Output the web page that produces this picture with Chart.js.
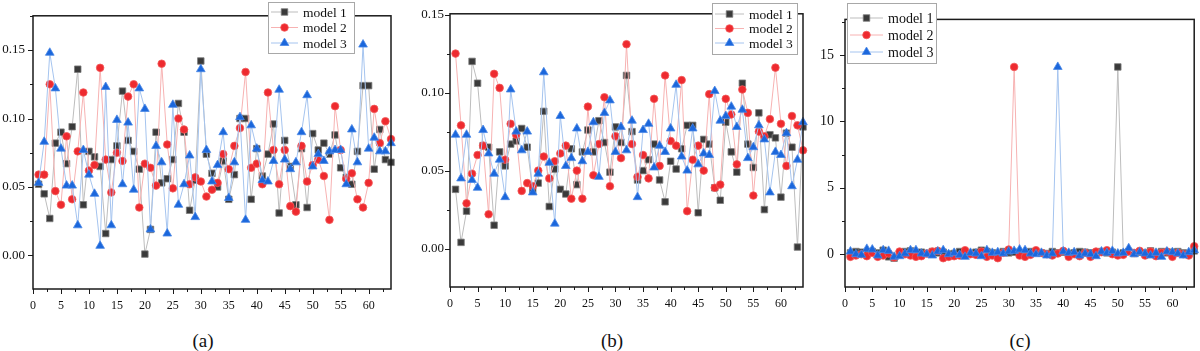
<!DOCTYPE html>
<html>
<head>
<meta charset="utf-8">
<script src="https://cdn.jsdelivr.net/npm/chart.js@4.4.0/dist/chart.umd.min.js"></script>
<style>
html, body { margin: 0; padding: 0; background: #fff; width: 1200px; height: 351px; overflow: hidden; }
canvas { position: absolute; top: 0; }
.cap { position: absolute; top: 329px; width: 60px; text-align: center; font: 19px "Liberation Serif", serif; line-height: 24px; color: #111; }
</style>
</head>
<body>
<canvas id="chA" width="400" height="318" style="left:0px"></canvas>
<canvas id="chB" width="400" height="318" style="left:410px"></canvas>
<canvas id="chC" width="385" height="318" style="left:815px"></canvas>
<div class="cap" style="left:173px">(a)</div>
<div class="cap" style="left:582px">(b)</div>
<div class="cap" style="left:990px">(c)</div>
<script>
// tick labels
var xTickVals = [0, 5, 10, 15, 20, 25, 30, 35, 40, 45, 50, 55, 60];
var yTicksA = [0, 0.05, 0.10, 0.15];
var yTicksB = [0, 0.05, 0.10, 0.15];
var yTicksC = [0, 5, 10, 15];
var seriesNames = ["model 1", "model 2", "model 3"];

// panel (a)
var a1 = [0.052, 0.045, 0.027, 0.082, 0.090, 0.067, 0.094, 0.136,
          0.037, 0.076, 0.072, 0.065, 0.016, 0.070, 0.080, 0.120,
          0.084, 0.076, 0.063, 0.001, 0.019, 0.090, 0.053, 0.056,
          0.070, 0.111, 0.090, 0.033, 0.055, 0.142, 0.074, 0.060,
          0.050, 0.069, 0.041, 0.059, 0.100, 0.100, 0.041, 0.078,
          0.058, 0.074, 0.096, 0.031, 0.084, 0.065, 0.037, 0.078,
          0.035, 0.089, 0.077, 0.082, 0.074, 0.088, 0.064, 0.057,
          0.052, 0.076, 0.124, 0.124, 0.063, 0.092, 0.070, 0.068];
var a2 = [0.059, 0.059, 0.125, 0.047, 0.037, 0.087, 0.041, 0.076,
          0.119, 0.062, 0.066, 0.137, 0.070, 0.046, 0.075, 0.069,
          0.116, 0.125, 0.035, 0.067, 0.064, 0.051, 0.140, 0.081,
          0.049, 0.100, 0.092, 0.052, 0.057, 0.054, 0.043, 0.048,
          0.053, 0.074, 0.063, 0.080, 0.093, 0.134, 0.064, 0.067,
          0.052, 0.119, 0.077, 0.052, 0.077, 0.036, 0.032, 0.080,
          0.054, 0.066, 0.070, 0.058, 0.026, 0.109, 0.077, 0.056,
          0.060, 0.041, 0.035, 0.053, 0.107, 0.082, 0.098, 0.085];
var a3 = [0.053, 0.083, 0.148, 0.122, 0.078, 0.051, 0.051, 0.022,
          0.077, 0.059, 0.045, 0.007, 0.123, 0.022, 0.099, 0.052,
          0.097, 0.048, 0.122, 0.107, 0.019, 0.080, 0.068, 0.016,
          0.110, 0.037, 0.052, 0.073, 0.028, 0.136, 0.077, 0.054,
          0.066, 0.090, 0.042, 0.068, 0.101, 0.026, 0.095, 0.078,
          0.055, 0.054, 0.069, 0.121, 0.070, 0.063, 0.068, 0.090,
          0.117, 0.065, 0.074, 0.069, 0.076, 0.077, 0.077, 0.052,
          0.092, 0.068, 0.154, 0.078, 0.086, 0.076, 0.076, 0.082];

// panel (b)
var b1 = [0.038, 0.004, 0.024, 0.120, 0.106, 0.066, 0.065, 0.015,
          0.062, 0.053, 0.067, 0.069, 0.077, 0.065, 0.037, 0.042,
          0.088, 0.027, 0.051, 0.038, 0.035, 0.064, 0.041, 0.062,
          0.076, 0.062, 0.082, 0.068, 0.049, 0.078, 0.068, 0.111,
          0.075, 0.044, 0.050, 0.057, 0.067, 0.044, 0.030, 0.056,
          0.051, 0.064, 0.079, 0.079, 0.023, 0.070, 0.067, 0.039,
          0.031, 0.081, 0.062, 0.049, 0.106, 0.067, 0.052, 0.087,
          0.025, 0.073, 0.071, 0.033, 0.074, 0.065, 0.001, 0.078];
var b2 = [0.125, 0.079, 0.029, 0.048, 0.060, 0.066, 0.022, 0.112,
          0.103, 0.057, 0.080, 0.073, 0.037, 0.042, 0.040, 0.050,
          0.059, 0.045, 0.056, 0.061, 0.066, 0.032, 0.050, 0.032,
          0.091, 0.047, 0.067, 0.097, 0.040, 0.072, 0.058, 0.131,
          0.067, 0.046, 0.060, 0.045, 0.096, 0.053, 0.111, 0.069,
          0.066, 0.108, 0.024, 0.057, 0.066, 0.050, 0.099, 0.039,
          0.041, 0.096, 0.086, 0.054, 0.102, 0.087, 0.034, 0.075,
          0.072, 0.083, 0.116, 0.080, 0.053, 0.085, 0.079, 0.063];
var b3 = [0.073, 0.045, 0.073, 0.044, 0.039, 0.076, 0.061, 0.048,
          0.057, 0.033, 0.102, 0.075, 0.063, 0.075, 0.036, 0.048,
          0.113, 0.055, 0.016, 0.085, 0.053, 0.058, 0.077, 0.056,
          0.062, 0.081, 0.046, 0.087, 0.095, 0.062, 0.078, 0.063,
          0.082, 0.033, 0.076, 0.080, 0.052, 0.066, 0.062, 0.077,
          0.105, 0.059, 0.050, 0.077, 0.054, 0.061, 0.060, 0.101,
          0.082, 0.085, 0.091, 0.078, 0.089, 0.058, 0.065, 0.079,
          0.070, 0.036, 0.062, 0.060, 0.074, 0.040, 0.057, 0.081];

// panel (c)
var c1 = [0.10, 0.20, 0.15, 0.05, 0.20, 0.10, 0.30, -0.20,
          -0.30, 0.05, 0.20, 0.25, 0.10, 0.15, 0.05, 0.20,
          0.10, 0.15, 0.00, 0.05, 0.20, 0.10, 0.05, 0.15,
          0.30, 0.20, 0.10, 0.05, 0.20, 0.10, 0.15, 0.00,
          0.10, 0.20, 0.15, 0.10, 0.05, 0.20, 0.10, 0.15,
          0.05, 0.10, 0.20, 0.15, 0.10, 0.05, 0.20, 0.10,
          0.15, 14.10, 0.10, 0.20, 0.05, 0.15, 0.10, 0.25,
          0.05, 0.20, 0.10, 0.15, 0.20, 0.10, 0.05, 0.25];
var c2 = [-0.20, -0.10, 0.00, -0.15, 0.10, -0.20, -0.10, 0.05,
          -0.25, 0.20, 0.00, -0.10, -0.20, -0.15, 0.05, 0.20,
          0.25, -0.30, -0.20, -0.15, -0.10, 0.30, 0.00, -0.05,
          0.20, -0.20, -0.10, -0.30, 0.10, 0.35, 14.10, -0.10,
          -0.20, -0.05, 0.30, 0.10, 0.00, -0.10, 0.05, 0.25,
          -0.20, 0.00, -0.15, 0.10, -0.20, 0.20, 0.15, 0.30,
          0.00, -0.10, -0.05, 0.20, 0.10, 0.25, -0.10, 0.20,
          -0.15, 0.10, 0.20, -0.20, 0.10, 0.00, -0.10, 0.60];
var c3 = [0.20, 0.00, -0.05, 0.40, 0.35, -0.10, 0.30, 0.25,
          -0.20, -0.15, 0.05, 0.30, 0.30, 0.05, 0.00, -0.10,
          0.20, 0.30, 0.00, 0.10, -0.05, -0.20, 0.10, 0.05,
          -0.15, 0.30, 0.10, 0.15, 0.05, 0.20, 0.25, 0.35,
          0.30, 0.05, 0.00, 0.10, -0.10, 0.05, 14.10, 0.20,
          0.10, 0.15, -0.10, 0.05, 0.00, -0.15, 0.20, 0.10,
          0.25, 0.05, 0.10, 0.45, 0.00, 0.15, 0.05, -0.10,
          0.10, -0.20, 0.20, 0.15, 0.05, -0.10, 0.15, 0.30];

var xIdx = a1.map(function (v, i) { return i + 1; });

var looks = [
  { pointStyle: "rect",     radius: 4.6, fill: "#3a3a3a", edge: "#7c7c7c", line: "#bdbdbd", order: 3 },
  { pointStyle: "circle",   radius: 3.8, fill: "#ee2a2f", edge: "#f35b5b", line: "#f7b2b2", order: 2 },
  { pointStyle: "triangle", radius: 5.0, fill: "#1b67dc", edge: "#4a88e6", line: "#a5c4ef", order: 1 }
];

var serif = "Liberation Serif";
Chart.defaults.font.family = serif;
Chart.defaults.color = "#111";

// frame + minor/major ticks, drawn through the chart scales
var frameTicks = {
  id: "frameTicks",
  afterDraw: function (chart, args, o) {
    var ctx = chart.ctx, a = chart.chartArea, x = chart.scales.x, y = chart.scales.y;
    ctx.save();
    ctx.strokeStyle = "#1a1a1a";
    ctx.lineWidth = 1;
    ctx.beginPath();
    for (var k = 0; k * o.xMinor <= x.max + 1e-9; k++) {
      var px = Math.round(x.getPixelForValue(k * o.xMinor)) + 0.5;
      ctx.moveTo(px, a.bottom);
      ctx.lineTo(px, a.bottom + (k % 2 === 0 ? 5 : 3));
    }
    var k0 = Math.ceil(y.min / o.yMinor - 1e-6);
    for (var j = k0; j * o.yMinor <= y.max + 1e-9; j++) {
      var py = Math.round(y.getPixelForValue(j * o.yMinor)) + 0.5;
      ctx.moveTo(a.left, py);
      ctx.lineTo(a.left - (j % 2 === 0 ? 5 : 3), py);
    }
    ctx.stroke();
    ctx.lineWidth = 1.5;
    ctx.strokeRect(a.left, a.top, a.right - a.left, a.bottom - a.top);
    ctx.restore();
  }
};

// legend box with line + marker per dataset
var boxLegend = {
  id: "boxLegend",
  afterDraw: function (chart, args, o) {
    var ctx = chart.ctx;
    ctx.save();
    ctx.fillStyle = "#fff";
    ctx.fillRect(o.x, o.y, o.w, o.h);
    ctx.strokeStyle = "#a8a8a8";
    ctx.lineWidth = 1;
    ctx.strokeRect(o.x + 0.5, o.y + 0.5, o.w, o.h);
    chart.data.datasets.forEach(function (ds, i) {
      var ry = o.y + o.row0 + i * o.step;
      ctx.strokeStyle = ds.borderColor;
      ctx.lineWidth = 1;
      ctx.beginPath();
      ctx.moveTo(o.x + 3, ry);
      ctx.lineTo(o.x + o.lineLen, ry);
      ctx.stroke();
      ctx.fillStyle = ds.pointBackgroundColor;
      ctx.strokeStyle = ds.pointBorderColor;
      ctx.lineWidth = ds.pointBorderWidth;
      Chart.helpers.drawPoint(ctx, { pointStyle: ds.pointStyle, radius: ds.pointRadius, rotation: 0, borderWidth: ds.pointBorderWidth },
        o.x + 3 + (o.lineLen - 3) / 2, ry);
      ctx.fillStyle = "#111";
      ctx.font = o.font + "px '" + serif + "', serif";
      ctx.textBaseline = "middle";
      ctx.fillText(ds.label, o.x + o.textX, ry + 1);
    });
    ctx.restore();
  }
};

function panel(id, series, yTicks, cfg) {
  new Chart(document.getElementById(id), {
    type: "line",
    data: {
      datasets: series.map(function (vals, k) {
        var s = looks[k];
        return {
          label: seriesNames[k],
          data: vals.map(function (v, i) { return { x: xIdx[i], y: v }; }),
          borderColor: s.line,
          borderWidth: 1,
          pointStyle: s.pointStyle,
          pointRadius: s.radius,
          pointBackgroundColor: s.fill,
          pointBorderColor: s.edge,
          pointBorderWidth: 0.8,
          order: s.order,
          tension: 0,
          fill: false
        };
      })
    },
    options: {
      responsive: false,
      animation: false,
      devicePixelRatio: 1,
      clip: false,
      layout: { padding: { top: cfg.top, right: cfg.right, left: 0, bottom: 0 } },
      plugins: {
        legend: { display: false },
        tooltip: { enabled: false },
        frameTicks: { xMinor: 2.5, yMinor: cfg.yMinor },
        boxLegend: cfg.legend
      },
      scales: {
        x: {
          type: "linear", min: 0, max: 64,
          grid: { display: false, drawTicks: false }, border: { display: false },
          afterBuildTicks: function (s) { s.ticks = xTickVals.map(function (v) { return { value: v }; }); },
          afterFit: function (s) { s.height = cfg.xh; },
          ticks: { autoSkip: false, maxRotation: 0, padding: 10, color: "#111", font: { size: 12 } }
        },
        y: {
          type: "linear", min: cfg.yMin, max: cfg.yMax,
          grid: { display: false, drawTicks: false }, border: { display: false },
          afterBuildTicks: function (s) { s.ticks = yTicks.map(function (v) { return { value: v }; }); },
          afterFit: function (s) { s.width = cfg.yw; },
          ticks: {
            autoSkip: false, padding: cfg.yPad, color: "#111", font: { size: cfg.yFont },
            callback: function (v) { return cfg.dec ? v.toFixed(cfg.dec) : String(v); }
          }
        }
      }
    },
    plugins: [frameTicks, boxLegend]
  });
}

panel("chA", [a1, a2, a3], yTicksA, {
  top: 1, right: 9, xh: 29, yw: 33, yPad: 8, yFont: 13, dec: 2,
  yMin: -0.0245, yMax: 0.175, yMinor: 0.025,
  legend: { x: 268, y: 2, w: 86, h: 51, row0: 10, step: 15.5, lineLen: 30, textX: 35, font: 13.5 }
});
panel("chB", [b1, b2, b3], yTicksB, {
  top: 3, right: 7, xh: 31, yw: 40, yPad: 6, yFont: 13, dec: 2,
  yMin: -0.0246, yMax: 0.1505, yMinor: 0.025,
  legend: { x: 302, y: 3, w: 85, h: 51, row0: 11, step: 14.5, lineLen: 32, textX: 37, font: 13.5 }
});
panel("chC", [c1, c2, c3], yTicksC, {
  top: 1, right: 2, xh: 31, yw: 30, yPad: 11, yFont: 14, dec: 0,
  yMin: -2.47, yMax: 17.68, yMinor: 2.5,
  legend: { x: 32, y: 3, w: 89, h: 60, row0: 15, step: 17, lineLen: 36, textX: 41, font: 14 }
});
</script>
</body>
</html>
